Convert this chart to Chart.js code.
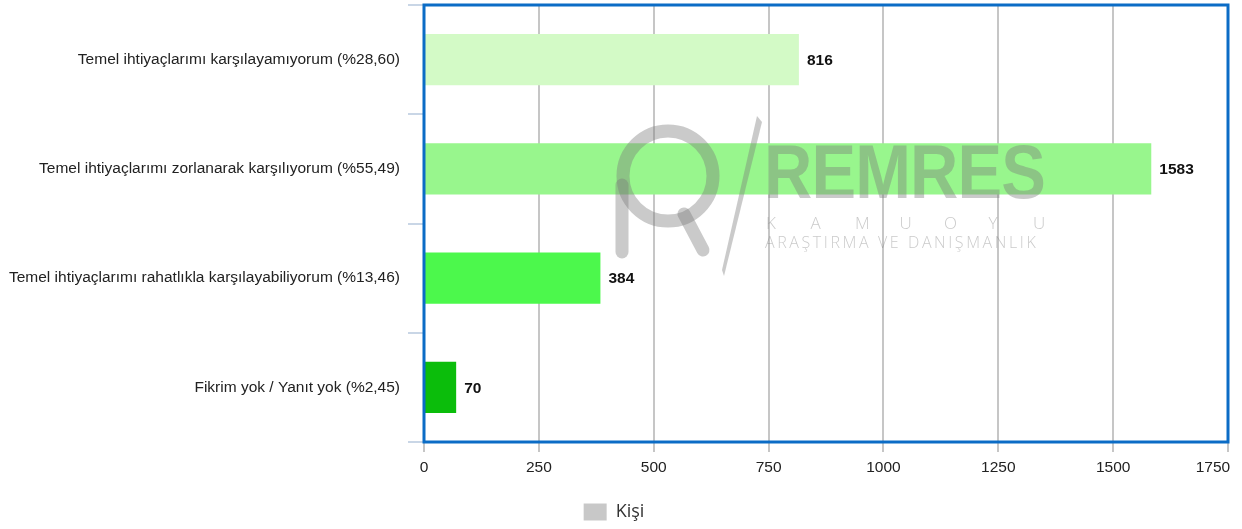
<!DOCTYPE html>
<html>
<head>
<meta charset="utf-8">
<script src="https://cdn.jsdelivr.net/npm/chart.js@4.4.1/dist/chart.umd.min.js"></script>
<style>
  html, body { margin: 0; padding: 0; background: #fff; }
  #wrap { width: 1242px; height: 529px; }
</style>
</head>
<body>
<div id="wrap"><canvas id="chart"></canvas></div>
<script>
const categories = [
  "Temel ihtiyaçlarımı karşılayamıyorum (%28,60)",
  "Temel ihtiyaçlarımı zorlanarak karşılıyorum (%55,49)",
  "Temel ihtiyaçlarımı rahatlıkla karşılayabiliyorum (%13,46)",
  "Fikrim yok / Yanıt yok (%2,45)"
];
const values = [816, 1583, 384, 70];
const barColors = ["#d3fac6", "#98f68d", "#4cf84c", "#0bbd0b"];
const seriesName = "Kişi";
const xTicks = [0, 250, 500, 750, 1000, 1250, 1500, 1750];

const FONT = "'Liberation Sans', Arial, sans-serif";

// numbers at the end of each bar
const valueLabels = {
  id: "valueLabels",
  afterDatasetsDraw(chart) {
    const ctx = chart.ctx;
    const meta = chart.getDatasetMeta(0);
    ctx.save();
    ctx.font = "bold 15.5px " + FONT;
    ctx.fillStyle = "#111";
    ctx.textBaseline = "middle";
    meta.data.forEach((bar, i) => {
      ctx.fillText(values[i], bar.x + 8, bar.y + 1);
    });
    ctx.restore();
  }
};

// blue frame round the plot + watermark
const frameAndMark = {
  id: "frameAndMark",
  afterDraw(chart) {
    const ctx = chart.ctx;
    const a = chart.chartArea;
    ctx.save();
    ctx.globalAlpha = 0.4;
    ctx.strokeStyle = "#7a7a7a";
    ctx.fillStyle = "#7a7a7a";
    ctx.lineCap = "round";
    ctx.lineWidth = 13;
    ctx.beginPath();
    ctx.arc(668, 176, 45, 0, Math.PI * 2);
    ctx.stroke();
    ctx.beginPath();
    ctx.moveTo(622, 185); ctx.lineTo(622, 252);
    ctx.stroke();
    ctx.beginPath();
    ctx.moveTo(684, 214); ctx.lineTo(703, 250);
    ctx.stroke();
    ctx.beginPath();
    ctx.moveTo(757, 116); ctx.lineTo(762, 122); ctx.lineTo(724, 276); ctx.lineTo(722, 270);
    ctx.closePath();
    ctx.fill();
    ctx.save();
    ctx.translate(764, 198);
    ctx.scale(0.88, 1);
    ctx.font = "bold 76px " + FONT;
    ctx.textBaseline = "alphabetic";
    ctx.letterSpacing = "-1px";
    ctx.fillText("REMRES", 0, 0);
    ctx.restore();
    ctx.font = "300 17px 'Open Sans', sans-serif";
    ctx.letterSpacing = "0px";
    "KAMUOYU".split("").forEach((c, i) => ctx.fillText(c, 766 + i * 44.5, 224));
    ctx.font = "300 16px 'Open Sans', sans-serif";
    ctx.letterSpacing = "2.6px";
    ctx.fillText("ARAŞTIRMA VE DANIŞMANLIK", 765, 243);
    ctx.restore();

    ctx.save();
    ctx.strokeStyle = "#0b6cc6";
    ctx.lineWidth = 3;
    ctx.strokeRect(a.left, a.top, a.right - a.left, a.bottom - a.top);
    ctx.restore();
  }
};

new Chart(document.getElementById("chart"), {
  type: "bar",
  data: {
    labels: categories,
    datasets: [{
      label: seriesName,
      data: values,
      backgroundColor: barColors,
      borderWidth: 0,
      barPercentage: 0.47,
      categoryPercentage: 1
    }]
  },
  options: {
    indexAxis: "y",
    responsive: true,
    maintainAspectRatio: false,
    animation: false,
    layout: { padding: { top: 5, right: 14, left: 0, bottom: -2 } },
    plugins: {
      tooltip: { enabled: false },
      legend: {
        position: "bottom",
        labels: {
          generateLabels: () => [{
            text: seriesName, fillStyle: "#c8c8c8", strokeStyle: "#c8c8c8", lineWidth: 0, fontColor: "#333"
          }],
          boxWidth: 23,
          boxHeight: 17,
          padding: 8,
          color: "#333",
          font: { family: "'Open Sans', sans-serif", size: 18 }
        }
      }
    },
    scales: {
      x: {
        min: 0,
        max: 1750,
        afterBuildTicks: s => { s.ticks = xTicks.map(v => ({ value: v })); },
        afterFit: s => { s.height = 53; s.paddingLeft = 0; s.paddingRight = 0; },
        grid: { color: "#c6c6c6", lineWidth: 2, tickLength: 10 },
        border: { display: false },
        ticks: {
          color: "#222",
          padding: 6,
          maxRotation: 0,
          // last label sits inside the canvas, like the original
          callback: v => v === xTicks[xTicks.length - 1] ? v + "\u00a0\u00a0\u00a0\u00a0\u00a0\u00a0\u00a0" : String(v),
          font: { family: FONT, size: 15.5 }
        }
      },
      y: {
        afterFit: s => { s.width = 424; s.paddingTop = 0; s.paddingBottom = 0; },
        grid: { drawOnChartArea: false, color: "#c9d6e6", lineWidth: 2, tickLength: 16, offset: true },
        border: { display: false },
        ticks: {
          color: "#222",
          padding: 8,
          font: { family: FONT, size: 15.5 }
        }
      }
    }
  },
  plugins: [valueLabels, frameAndMark]
});
</script>
</body>
</html>
